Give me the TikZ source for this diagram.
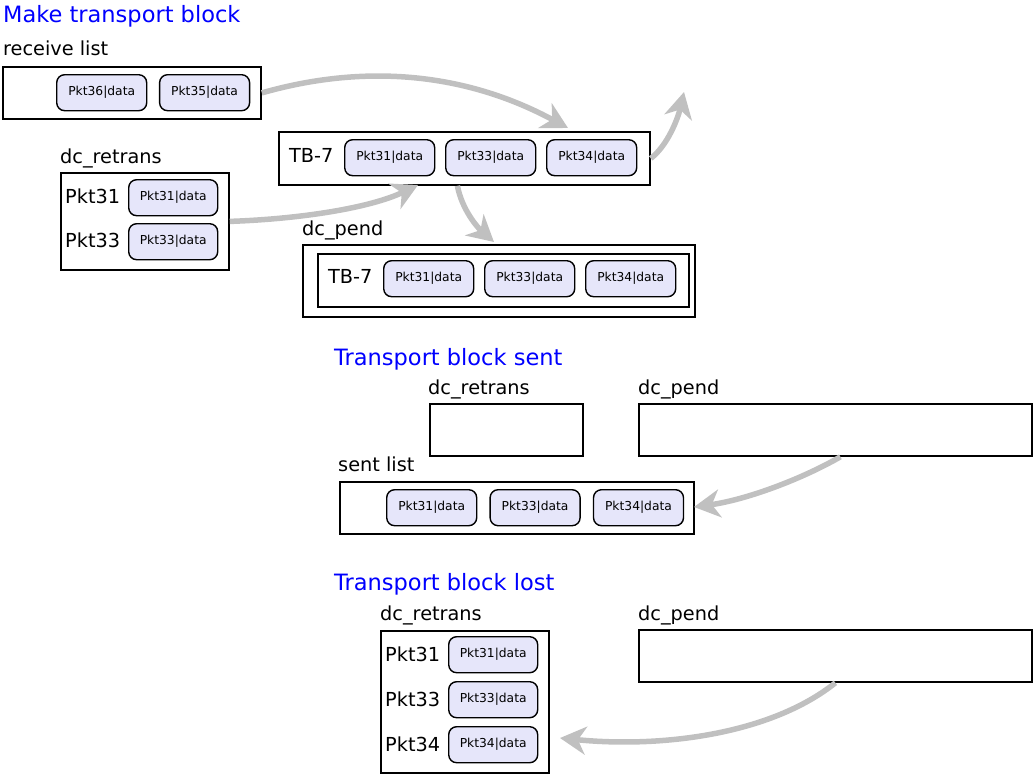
\documentclass[tikz,border=0pt]{standalone}
\usepackage{fontspec}
\setmainfont{DejaVu Sans}
\usetikzlibrary{arrows.meta,positioning}
\definecolor{pktfill}{RGB}{230,230,250}
\definecolor{flowgray}{RGB}{192,192,192}
\definecolor{headblue}{RGB}{0,0,255}
\newcommand{\pktfont}{\fontsize{12.3}{14}\selectfont}
\newcommand{\lblfont}{\fontsize{19.3}{22}\selectfont}
\newcommand{\headfont}{\fontsize{22.5}{26}\selectfont}
\tikzset{
  box/.style={draw,line width=1.8pt,inner sep=0pt,anchor=north west},
  pkt/.style={draw,line width=1.4pt,fill=pktfill,rounded corners=8pt,minimum width=90pt,minimum height=36pt,inner sep=0pt,font=\pktfont,anchor=north west},
  lbl/.style={anchor=base west,inner sep=0pt,font=\lblfont},
  heading/.style={anchor=base west,inner sep=0pt,text=headblue,font=\headfont},
  flow/.style={line width=5.5pt,draw=flowgray,-{Stealth[length=26pt,width=28pt,inset=8pt]}}
}

\begin{document}
\begin{tikzpicture}[x=1pt,y=-1pt]
\useasboundingbox (0,0) rectangle (1033,774);
% make transport block
\node[heading] (mkhead) at (3,22) {Make transport block};
\node[lbl] (recvlbl) at (3,55) {receive list};
\node[box,minimum width=258pt,minimum height=52pt] (recv) at (2,66) {};
\node[pkt] (r36) at (56,74) {Pkt36|data};
\node[pkt,right=11.5pt of r36] (r35) {Pkt35|data};

\node[box,minimum width=371pt,minimum height=53pt] (tb) at (278,131) {};
\node[lbl] (tblbl) at (289,162) {TB-7};
\node[pkt] (tb31) at (344,139) {Pkt31|data};
\node[pkt,right=9.6pt of tb31] (tb33) {Pkt33|data};
\node[pkt,right=9.6pt of tb33] (tb34) {Pkt34|data};

\node[lbl] (retlbl) at (60,163) {dc\_retrans};
\node[box,minimum width=168pt,minimum height=97pt] (ret) at (60,172) {};
\node[pkt,minimum width=89pt] (ret31) at (128,179) {Pkt31|data};
\node[pkt,minimum width=89pt,below=6.6pt of ret31] (ret33) {Pkt33|data};
\node[lbl] (retk31) at (65,203) {Pkt31};
\node[lbl] (retk33) at (65,247) {Pkt33};

\node[lbl] (pendlbl) at (302,235) {dc\_pend};
\node[box,minimum width=392pt,minimum height=72pt] (pend) at (302,244) {};
\node[box,minimum width=371pt,minimum height=53pt] (pendtb) at (317,253) {};
\node[lbl] (pendtblbl) at (328,283) {TB-7};
\node[pkt] (p31) at (383,260) {Pkt31|data};
\node[pkt,right=9.6pt of p31] (p33) {Pkt33|data};
\node[pkt,right=9.6pt of p33] (p34) {Pkt34|data};

% transport block sent
\node[heading] (senthead) at (334,365) {Transport block sent};
\node[lbl] (sretlbl) at (428,394) {dc\_retrans};
\node[box,minimum width=153pt,minimum height=52pt] (sret) at (429,403) {};
\node[lbl] (spendlbl) at (638,394) {dc\_pend};
\node[box,minimum width=393pt,minimum height=52pt] (spend) at (638,403) {};
\node[lbl] (sentlbl) at (338,471) {sent list};
\node[box,minimum width=354pt,minimum height=52pt] (sent) at (339,481) {};
\node[pkt] (s31) at (386,489) {Pkt31|data};
\node[pkt,right=12pt of s31] (s33) {Pkt33|data};
\node[pkt,right=12pt of s33] (s34) {Pkt34|data};

% transport block lost
\node[heading] (losthead) at (334,590) {Transport block lost};
\node[lbl] (lretlbl) at (380,620) {dc\_retrans};
\node[box,minimum width=168pt,minimum height=142pt] (lret) at (380,630) {};
\node[pkt,minimum width=89pt] (l31) at (448,636) {Pkt31|data};
\node[pkt,minimum width=89pt,below=7.6pt of l31] (l33) {Pkt33|data};
\node[pkt,minimum width=89pt,below=7.6pt of l33] (l34) {Pkt34|data};
\node[lbl] (lk31) at (385,661) {Pkt31};
\node[lbl] (lk33) at (385,706) {Pkt33};
\node[lbl] (lk34) at (385,751) {Pkt34};
\node[lbl] (lpendlbl) at (638,620) {dc\_pend};
\node[box,minimum width=393pt,minimum height=52pt] (lpend) at (638,629) {};

% flows
\coordinate (a1) at (568,128);
\coordinate (a2) at (684,92);
\coordinate (a3) at (418,185);
\coordinate (a4) at (494,242);
\coordinate (a5) at (694,507);
\coordinate (a6) at (560,738);
\draw[flow] (recv.east) .. controls (370,62) and (470,75) .. (a1);
\draw[flow] (tb.east) .. controls (668,145) and (678,118) .. (a2);
\draw[flow] (ret.east) .. controls (300,219) and (370,208) .. (a3);
\draw[flow] ([xshift=-7pt]tb.south) .. controls (462,210) and (478,228) .. (a4);
\draw[flow] ([xshift=5pt]spend.south) .. controls (800,480) and (745,500) .. (a5);
\draw[flow] (lpend.south) .. controls (770,735) and (660,748) .. (a6);
\end{tikzpicture}
\end{document}
